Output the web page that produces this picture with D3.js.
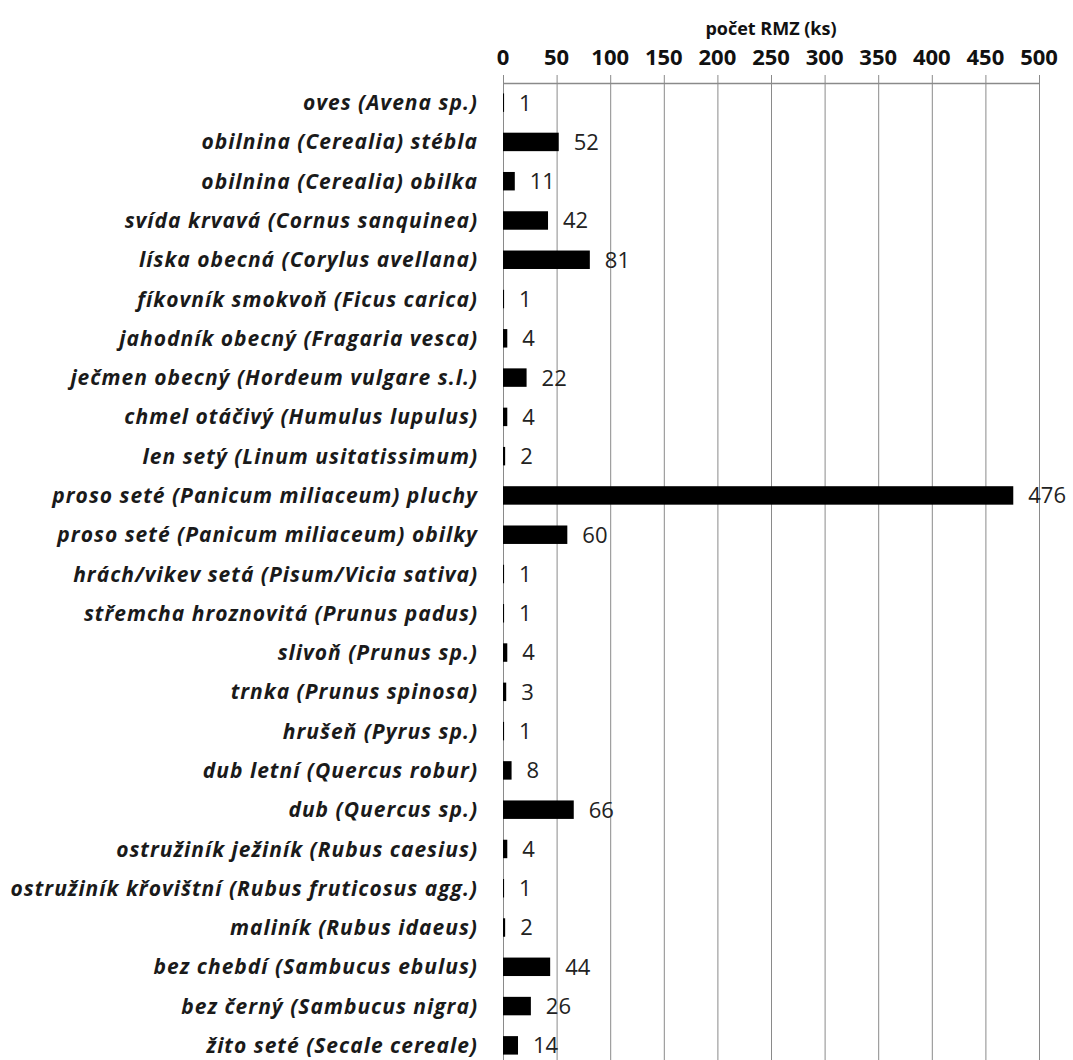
<!DOCTYPE html>
<html>
<head>
<meta charset="utf-8">
<script src="https://cdn.jsdelivr.net/npm/d3@7"></script>
<style>
  body { margin: 0; background: #fff; }
  .cat text { font-family: "Open Sans", sans-serif; font-weight: 700; font-style: italic; letter-spacing: 1px; }
</style>
</head>
<body>
<div id="chart"></div>
<script>
const categories = [
  "oves (Avena sp.)",
  "obilnina (Cerealia) stébla",
  "obilnina (Cerealia) obilka",
  "svída krvavá (Cornus sanquinea)",
  "líska obecná (Corylus avellana)",
  "fíkovník smokvoň (Ficus carica)",
  "jahodník obecný (Fragaria vesca)",
  "ječmen obecný (Hordeum vulgare s.l.)",
  "chmel otáčivý (Humulus lupulus)",
  "len setý (Linum usitatissimum)",
  "proso seté (Panicum miliaceum) pluchy",
  "proso seté (Panicum miliaceum) obilky",
  "hrách/vikev setá (Pisum/Vicia sativa)",
  "střemcha hroznovitá (Prunus padus)",
  "slivoň (Prunus sp.)",
  "trnka (Prunus spinosa)",
  "hrušeň (Pyrus sp.)",
  "dub letní (Quercus robur)",
  "dub (Quercus sp.)",
  "ostružiník ježiník (Rubus caesius)",
  "ostružiník křovištní (Rubus fruticosus agg.)",
  "maliník (Rubus idaeus)",
  "bez chebdí (Sambucus ebulus)",
  "bez černý (Sambucus nigra)",
  "žito seté (Secale cereale)"
];
const counts = [1, 52, 11, 42, 81, 1, 4, 22, 4, 2, 476, 60, 1, 1, 4, 3, 1, 8, 66, 4, 1, 2, 44, 26, 14];
const xTicks = [0, 50, 100, 150, 200, 250, 300, 350, 400, 450, 500];
const axisTitle = "počet RMZ (ks)";

const width = 1073, height = 1060;
const margin = { top: 83, right: 34, bottom: -5, left: 503 };

const svg = d3.select('#chart')
  .append('svg')
  .attr('width', width)
  .attr('height', height);

const x = d3.scaleLinear()
  .domain([0, 500])
  .range([margin.left, width - margin.right]);

const y = d3.scaleBand()
  .domain(categories)
  .range([margin.top, height - margin.bottom])
  .paddingInner(0.53)
  .paddingOuter(0.265);

// mřížka
svg.append('g')
  .selectAll('line')
  .data(xTicks)
  .join('line')
  .attr('x1', d => x(d) + 0.5)
  .attr('x2', d => x(d) + 0.5)
  .attr('y1', margin.top - 8)
  .attr('y2', height)
  .attr('stroke', '#8a8a8a')
  .attr('stroke-width', 1);

// horní osa
svg.append('line')
  .attr('x1', x(0))
  .attr('x2', x(500) + 1)
  .attr('y1', margin.top + 0.5)
  .attr('y2', margin.top + 0.5)
  .attr('stroke', '#8a8a8a')
  .attr('stroke-width', 1.5);

svg.append('g')
  .selectAll('text')
  .data(xTicks)
  .join('text')
  .attr('x', d => x(d))
  .attr('y', 65)
  .attr('text-anchor', 'middle')
  .attr('font-family', '"Open Sans", sans-serif')
  .attr('font-weight', 700)
  .attr('font-size', 22)
  .attr('fill', '#111')
  .text(d => d);

svg.append('text')
  .attr('x', 771)
  .attr('y', 35)
  .attr('text-anchor', 'middle')
  .attr('font-family', '"Open Sans", sans-serif')
  .attr('font-weight', 700)
  .attr('font-size', 18)
  .attr('fill', '#111')
  .text(axisTitle);

// popisky kategorií
svg.append('g')
  .attr('class', 'cat')
  .selectAll('text')
  .data(categories)
  .join('text')
  .attr('x', 478)
  .attr('y', d => y(d) + y.bandwidth() / 2)
  .attr('dy', '0.36em')
  .attr('text-anchor', 'end')
  .attr('font-size', 21)
  .attr('fill', '#1a1a1a')
  .text(d => d);

// sloupce
svg.append('g')
  .selectAll('rect')
  .data(counts)
  .join('rect')
  .attr('x', x(0))
  .attr('y', (d, i) => y(categories[i]))
  .attr('width', d => x(d) - x(0))
  .attr('height', y.bandwidth())
  .attr('fill', '#000');

// hodnoty
svg.append('g')
  .selectAll('text')
  .data(counts)
  .join('text')
  .attr('x', d => x(d) + 15)
  .attr('y', (d, i) => y(categories[i]) + y.bandwidth() / 2)
  .attr('dy', '0.36em')
  .attr('font-family', '"Open Sans", sans-serif')
  .attr('font-size', 22)
  .attr('fill', '#222')
  .text(d => d);
</script>
</body>
</html>
